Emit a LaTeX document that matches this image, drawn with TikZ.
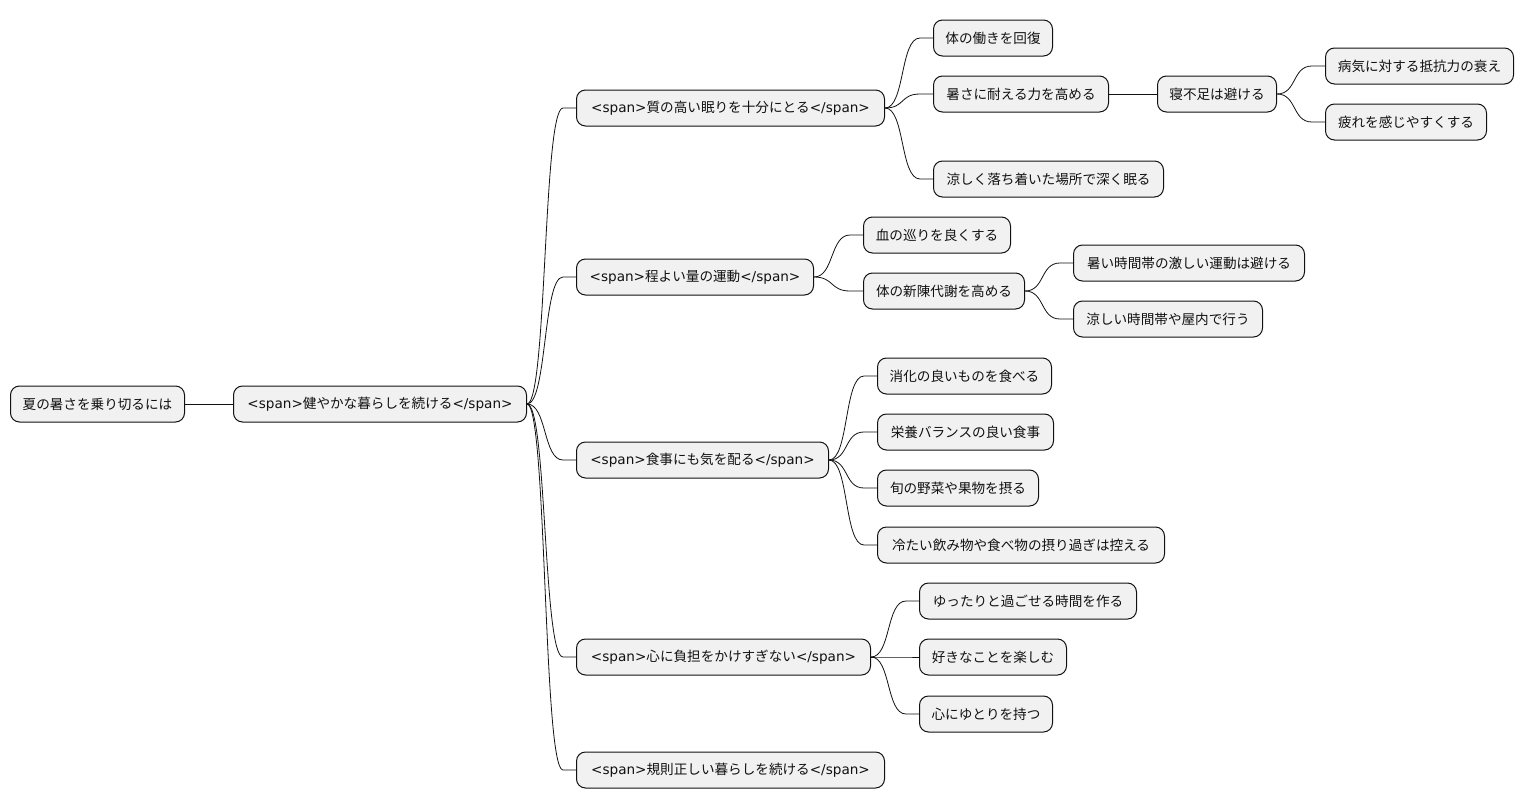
\documentclass[tikz,border=0pt]{standalone}
\usepackage{fontspec}
\setmainfont{Noto Sans CJK JP}
\newfontfamily\latinfont{DejaVu Sans}
\newcommand\tagopen{{\latinfont <span>}}
\newcommand\tagclose{{\latinfont </span>}}
\usetikzlibrary{positioning,calc}
\definecolor{boxfill}{RGB}{241,241,241}
\definecolor{ink}{RGB}{17,17,17}
\tikzset{
  topic/.style={draw=ink, line width=1pt, rounded corners=9pt, fill=boxfill, anchor=west,
                minimum height=36pt, inner sep=0pt, text=ink, font=\fontsize{13.6}{15}\selectfont},
  link/.style={draw=ink, line width=0.8pt,
               to path={.. controls +(20pt,0) and +(-20pt,0) .. ([xshift=-13pt]\tikztotarget) -- (\tikztotarget)}},
}
\begin{document}
\begin{tikzpicture}[x=1pt, y=-1pt]
  \useasboundingbox (0,0) rectangle (1524,809);

  \node[topic, minimum width=174pt] (root) at (10,404) {夏の暑さを乗り切るには};
  \node[topic, minimum width=293pt] (life) at (233,404) {\tagopen 健やかな暮らしを続ける\tagclose};

  % second level
  \node[topic, minimum width=308pt] (sleep) at (576,108) {\tagopen 質の高い眠りを十分にとる\tagclose};
  \node[topic, minimum width=237pt] (move)  at (576,277) {\tagopen 程よい量の運動\tagclose};
  \node[topic, minimum width=252pt] (food)  at (576,460) {\tagopen 食事にも気を配る\tagclose};
  \node[topic, minimum width=294pt] (mind)  at (576,657) {\tagopen 心に負担をかけすぎない\tagclose};
  \node[topic, minimum width=308pt] (rule)  at (576,770) {\tagopen 規則正しい暮らしを続ける\tagclose};

  % sleep
  \node[topic, minimum width=119pt] (s1) at (933,38)  {体の働きを回復};
  \node[topic, minimum width=175pt] (s2) at (933,94)  {暑さに耐える力を高める};
  \node[topic, minimum width=230pt] (s3) at (933,179) {涼しく落ち着いた場所で深く眠る};
  \node[topic, minimum width=119pt] (s21) at (1157,94) {寝不足は避ける};
  \node[topic, minimum width=188pt] (s211) at (1325,66)  {病気に対する抵抗力の衰え};
  \node[topic, minimum width=161pt] (s212) at (1325,122) {疲れを感じやすくする};

  % exercise
  \node[topic, minimum width=147pt] (m1) at (863,235) {血の巡りを良くする};
  \node[topic, minimum width=161pt] (m2) at (863,291) {体の新陳代謝を高める};
  \node[topic, minimum width=231pt] (m21) at (1073,263) {暑い時間帯の激しい運動は避ける};
  \node[topic, minimum width=189pt] (m22) at (1073,319) {涼しい時間帯や屋内で行う};

  % meals
  \node[topic, minimum width=174pt] (f1) at (877,376) {消化の良いものを食べる};
  \node[topic, minimum width=176pt] (f2) at (877,432) {栄養バランスの良い食事};
  \node[topic, minimum width=161pt] (f3) at (877,488) {旬の野菜や果物を摂る};
  \node[topic, minimum width=287pt] (f4) at (877,545) {冷たい飲み物や食べ物の摂り過ぎは控える};

  % mind
  \node[topic, minimum width=217pt] (h1) at (919,601) {ゆったりと過ごせる時間を作る};
  \node[topic, minimum width=147pt] (h2) at (919,657) {好きなことを楽しむ};
  \node[topic, minimum width=133pt] (h3) at (919,714) {心にゆとりを持つ};

  \draw[ink, line width=0.8pt] (root.east) -- (life.west);
  \foreach \c in {sleep,move,food,mind,rule} \draw[link] (life.east) to (\c.west);
  \foreach \c in {s1,s2,s3} \draw[link] (sleep.east) to (\c.west);
  \draw[ink, line width=0.8pt] (s2.east) -- (s21.west);
  \foreach \c in {s211,s212} \draw[link] (s21.east) to (\c.west);
  \foreach \c in {m1,m2} \draw[link] (move.east) to (\c.west);
  \foreach \c in {m21,m22} \draw[link] (m2.east) to (\c.west);
  \foreach \c in {f1,f2,f3,f4} \draw[link] (food.east) to (\c.west);
  \foreach \c in {h1,h2,h3} \draw[link] (mind.east) to (\c.west);
\end{tikzpicture}
\end{document}
